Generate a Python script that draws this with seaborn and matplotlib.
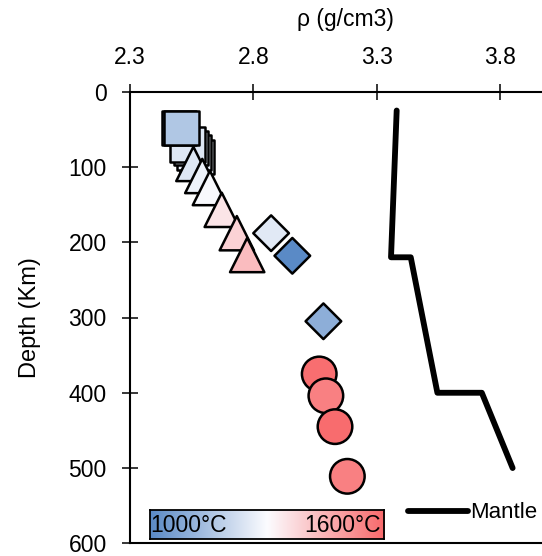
import numpy as np
import pandas as pd
import matplotlib
matplotlib.use("Agg")
import matplotlib.pyplot as plt
from matplotlib.colors import LinearSegmentedColormap
import seaborn as sns

# ---- data ----
sq_rho = [2.572, 2.560, 2.548, 2.533, 2.499, 2.508]
sq_depth = [87, 81, 75, 70, 48, 48]
sq_temp = [1270, 1262, 1255, 1245, 1040, 1160]

tri_rho = [2.557, 2.593, 2.624, 2.672, 2.733, 2.775]
tri_depth = [96, 112, 128, 157, 188, 217]
tri_temp = [1246, 1274, 1292, 1347, 1386, 1430]

dia_rho = [2.872, 2.958, 3.084]
dia_depth = [188, 218, 305]
dia_temp = [1250, 1000, 1096]

cir_rho = [3.067, 3.094, 3.131, 3.181]
cir_depth = [375, 404, 445, 511]
cir_temp = [1590, 1553, 1592, 1553]

mantle_rho = [3.381, 3.358, 3.438, 3.546, 3.726, 3.851]
mantle_depth = [25, 220, 220, 400, 400, 500]

x_ticks = [2.3, 2.8, 3.3, 3.8]
y_ticks = [0, 100, 200, 300, 400, 500, 600]
t_min, t_max = 1000, 1600

sns.set_style("white")
plt.rcParams["font.family"] = ["Liberation Sans", "DejaVu Sans"]
plt.rcParams["text.color"] = "black"
plt.rcParams["axes.labelcolor"] = "black"
FS = 16.5

cmap = LinearSegmentedColormap.from_list("bwr_xl", ["#5A8AC6", "#FCFCFF", "#F8696B"])

fig = plt.figure(figsize=(5.42, 5.56), dpi=100)
W, H = 542, 556
ax_l, ax_r, ax_t, ax_b = 130, 542, 91.7, 543.3
ax = fig.add_axes([ax_l / W, 1 - ax_b / H, (ax_r - ax_l) / W, (ax_b - ax_t) / H])

kw = dict(hue_norm=(t_min, t_max), palette=cmap, legend=False, edgecolor="black",
          linewidth=1.8, ax=ax, zorder=3)
sns.lineplot(x=mantle_rho, y=mantle_depth, sort=False, estimator=None, color="black",
             linewidth=4.2, ax=ax, label="Mantle", zorder=2)
sns.scatterplot(x=sq_rho, y=sq_depth, hue=sq_temp, marker="s", s=620, **kw)
sns.scatterplot(x=tri_rho, y=tri_depth, hue=tri_temp, marker="^", s=610, **kw)
sns.scatterplot(x=dia_rho, y=dia_depth, hue=dia_temp, marker="D", s=330, **kw)
sns.scatterplot(x=cir_rho, y=cir_depth, hue=cir_temp, marker="o", s=620, **kw)

ax.set_xlim(2.3, 2.3 + (ax_r - ax_l) / 246.7)
ax.set_ylim(600, 0)
ax.set_xticks(x_ticks)
ax.set_xticklabels([f"{v:.1f}" for v in x_ticks])
ax.set_yticks(y_ticks)
ax.xaxis.tick_top()
ax.xaxis.set_label_position("top")
ax.tick_params(axis="x", direction="inout", length=11, width=1.1, labelsize=FS, pad=11,
               top=True, bottom=False, colors="black")
ax.tick_params(axis="y", direction="inout", length=11.5, width=1.1, labelsize=FS, pad=11,
               left=True, colors="black")
for s in ["top", "left", "bottom"]:
    ax.spines[s].set_visible(True)
    ax.spines[s].set_linewidth(1.5)
    ax.spines[s].set_color("black")
ax.spines["right"].set_visible(False)
ax.set_xlabel("ρ (g/cm3)", fontsize=FS, labelpad=14, color="black")
ax.xaxis.label.set_x((345 - ax_l) / (ax_r - ax_l))
ax.set_ylabel("Depth (Km)", fontsize=17, labelpad=20, color="black")

leg = ax.legend(frameon=False, fontsize=16, handlelength=2.7, handletextpad=0.08,
                loc="center left", bbox_to_anchor=(408 / W, 1 - 513 / H),
                bbox_transform=fig.transFigure, borderpad=0, borderaxespad=0)
for t in leg.get_texts():
    t.set_color("black")

# colour scale bar
cb_l, cb_r, cb_t, cb_b = 149.5, 384, 509.5, 539.3
cax = fig.add_axes([cb_l / W, 1 - cb_b / H, (cb_r - cb_l) / W, (cb_b - cb_t) / H])
grad = np.linspace(0, 1, 256)[None, :]
cax.imshow(grad, aspect="auto", cmap=cmap, extent=(0, 1, 0, 1))
cax.set_xticks([])
cax.set_yticks([])
for s in cax.spines.values():
    s.set_visible(True)
    s.set_linewidth(1.3)
    s.set_color("black")
cax.text(0.005, 0.45, f"{t_min}°C", ha="left", va="center", fontsize=FS, color="black",
         transform=cax.transAxes)
cax.text(0.985, 0.45, f"{t_max}°C", ha="right", va="center", fontsize=FS, color="black",
         transform=cax.transAxes)

fig.savefig("out.png", dpi=100)
